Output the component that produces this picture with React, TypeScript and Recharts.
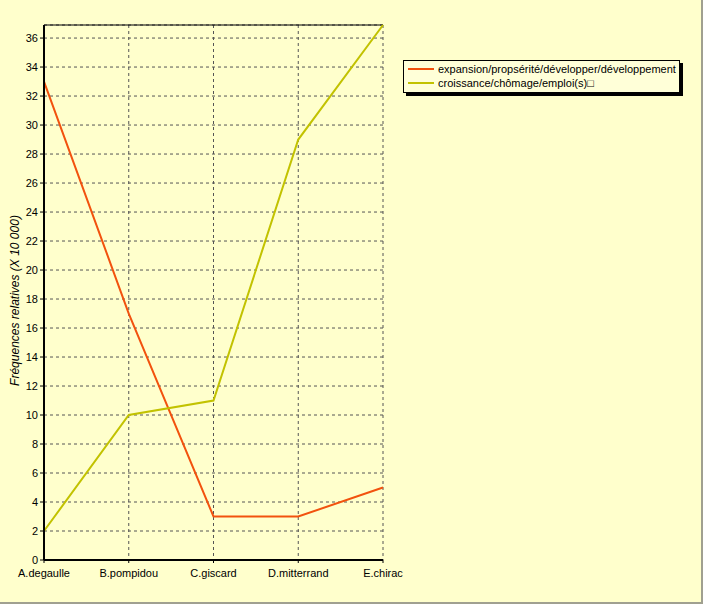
import React from "react";
import { LineChart, Line, XAxis, YAxis, CartesianGrid, ReferenceLine } from "recharts";

const categories = ["A.degaulle", "B.pompidou", "C.giscard", "D.mitterrand", "E.chirac"];
const expansion = [33, 17, 3, 3, 5];
const croissance = [2, 10, 11, 29, 36.9];
const yTicks = [0, 2, 4, 6, 8, 10, 12, 14, 16, 18, 20, 22, 24, 26, 28, 30, 32, 34, 36];
const seriesNames = [
  "expansion/propsérité/développer/développement",
  "croissance/chômage/emploi(s)\u25A1",
];
const colors = ["#F2520E", "#C2C200"];

const data = categories.map((c, i) => ({ name: c, s0: expansion[i], s1: croissance[i] }));

const font = "'Liberation Sans', Arial, sans-serif";

export default function App() {
  return (
    <div
      style={{
        position: "absolute",
        left: 0,
        top: 0,
        width: 703,
        height: 604,
        background: "#FFFFCC",
        boxSizing: "border-box",
        borderRight: "2px solid #A0A090",
        borderBottom: "2px solid #A0A090",
        fontFamily: font,
      }}
    >
      <LineChart
        width={703}
        height={604}
        data={data}
        margin={{ top: 25, right: 320, bottom: 0, left: 0 }}
        style={{ position: "absolute", left: 0, top: 0 }}
      >
        <CartesianGrid stroke="#555" strokeDasharray="3 3" vertical horizontal />
        <ReferenceLine y={36.9} stroke="#000" strokeWidth={1} ifOverflow="extendDomain" />
        <XAxis
          dataKey="name"
          height={44}
          axisLine={{ stroke: "#000", strokeWidth: 2 }}
          tickLine={{ stroke: "#000" }}
          tickSize={3}
          tickMargin={6}
          tick={{ fill: "#000", fontSize: 11, fontFamily: font }}
          interval={0}
          padding={{ left: 0, right: 0 }}
        />
        <YAxis
          width={44}
          domain={[0, 36.9]}
          ticks={yTicks}
          interval={0}
          axisLine={{ stroke: "#000", strokeWidth: 2 }}
          tickLine={{ stroke: "#000" }}
          tickSize={4}
          tick={{ fill: "#000", fontSize: 11, fontFamily: font }}
          label={{
            value: "Fréquences relatives (X 10 000)",
            angle: -90,
            position: "insideLeft",
            dx: 10,
            dy: 8,
            style: { fontSize: 12, fontStyle: "italic", fill: "#000", fontFamily: font, textAnchor: "middle" },
          }}
        />
        <Line
          type="linear"
          dataKey="s0"
          stroke={colors[0]}
          strokeWidth={2}
          dot={false}
          activeDot={false}
          isAnimationActive={false}
        />
        <Line
          type="linear"
          dataKey="s1"
          stroke={colors[1]}
          strokeWidth={2}
          dot={false}
          activeDot={false}
          isAnimationActive={false}
        />
      </LineChart>
      <div
        style={{
          position: "absolute",
          left: 403,
          top: 60,
          width: 275,
          height: 30,
          border: "1px solid #000",
          background: "#FFFFD8",
          boxShadow: "3px 3px 0 #000",
          fontSize: 11,
          lineHeight: "14px",
          color: "#000",
          paddingTop: 1,
          boxSizing: "content-box",
        }}
      >
        {seriesNames.map((n, i) => (
          <div key={n} style={{ display: "flex", alignItems: "center", height: 14 }}>
            <div style={{ width: 26, height: 2, background: colors[i], marginLeft: 4, marginRight: 4 }} />
            <span style={{ whiteSpace: "nowrap" }}>{n}</span>
          </div>
        ))}
      </div>
    </div>
  );
}
